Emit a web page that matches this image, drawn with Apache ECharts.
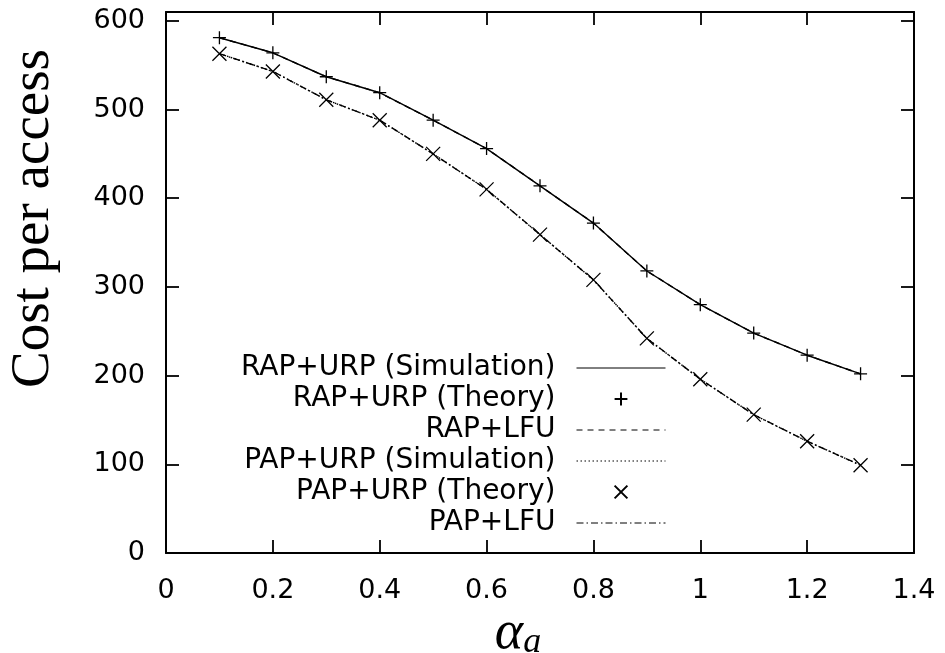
<!DOCTYPE html>
<html><head><meta charset="utf-8">
<script src="https://cdn.jsdelivr.net/npm/echarts@6/dist/echarts.min.js"></script>
<style>html,body{margin:0;padding:0;background:#fff}#c{width:945px;height:653px}</style>
</head><body><div id="c"></div>
<script>
// x values (alpha_a)
const alphaA = [0.1, 0.2, 0.3, 0.4, 0.5, 0.6, 0.7, 0.8, 0.9, 1.0, 1.1, 1.2, 1.3];
// Cost per access
const rapUrpSimulation = [581, 564, 537, 519, 488, 456, 414, 372, 318, 280, 248, 223, 202];
const rapUrpTheory     = [581, 564, 537, 519, 488, 456, 414, 372, 318, 280, 248, 223, 202];
const rapLfu           = [581, 564, 537, 519, 488, 456, 414, 372, 318, 280, 248, 223, 202];
const papUrpSimulation = [563, 543, 511, 488, 450, 410, 359, 308, 242, 196, 156, 126, 99];
const papUrpTheory     = [563, 543, 511, 488, 450, 410, 359, 308, 242, 196, 156, 126, 99];
const papLfu           = [563, 543, 511, 488, 450, 410, 359, 308, 242, 196, 156, 126, 99];
const seriesNames = ['RAP+URP (Simulation)', 'RAP+URP (Theory)', 'RAP+LFU',
                     'PAP+URP (Simulation)', 'PAP+URP (Theory)', 'PAP+LFU'];

const pairs = vals => alphaA.map((x, i) => [x, vals[i]]);
const PLUS = 'path://M0,6.5 L13,6.5 M6.5,0 L6.5,13';
const CROSS = 'path://M0,0 L13,13 M13,0 L0,13';
const noFill = 'rgba(0,0,0,0)';

function lineSeries(name, vals, dash, z) {
  return {
    name, type: 'line', data: pairs(vals), symbol: 'none', z,
    lineStyle: { color: '#000', width: 1.4, type: dash },
    itemStyle: { color: noFill, borderWidth: 0 },
    emphasis: { disabled: true }
  };
}
function markSeries(name, vals, sym, size) {
  return {
    name, type: 'line', data: pairs(vals), symbol: sym, symbolSize: size, showSymbol: true, z: 5,
    lineStyle: { color: '#000', width: 0, opacity: 0 },
    itemStyle: { color: noFill, borderColor: '#000', borderWidth: 1.3 },
    emphasis: { disabled: true }
  };
}

const chart = echarts.init(document.getElementById('c'), null, { renderer: 'canvas' });
const axisLineStyle = { color: '#000', width: 2 };
const tickStyle = { show: true, inside: true, length: 13, lineStyle: { color: '#000', width: 1.8 } };
const tickFont = { color: '#000', fontFamily: 'DejaVu Sans', fontSize: 27 };

chart.setOption({
  animation: false,
  backgroundColor: '#fff',
  grid: { left: 166, right: 31, top: 12, bottom: 100, containLabel: false, outerBoundsMode: 'none' },
  xAxis: [{
    type: 'value', min: 0, max: 1.4, interval: 0.2, position: 'bottom',
    axisLine: { show: true, onZero: false, lineStyle: axisLineStyle },
    axisTick: tickStyle,
    splitLine: { show: false },
    axisLabel: Object.assign({ margin: 24 }, tickFont),
    name: '{al|α}{sb|a}', nameLocation: 'middle', nameGap: 58, nameMoveOverlap: false,
    nameTextStyle: {
      padding: [0, 44, 0, 0],
      rich: {
        al: { fontFamily: 'Liberation Serif', fontStyle: 'italic', fontSize: 54, color: '#000', verticalAlign: 'bottom', lineHeight: 50 },
        sb: { fontFamily: 'Liberation Serif', fontStyle: 'italic', fontSize: 36, color: '#000', verticalAlign: 'bottom', lineHeight: 50 }
      }
    }
  }, {
    type: 'value', min: 0, max: 1.4, interval: 0.2, position: 'top',
    axisLine: { show: true, onZero: false, lineStyle: axisLineStyle },
    axisTick: tickStyle, axisLabel: { show: false }, splitLine: { show: false }
  }],
  yAxis: [{
    type: 'value', min: 0, max: 610, interval: 100, position: 'left',
    axisLine: { show: true, onZero: false, lineStyle: axisLineStyle },
    axisTick: tickStyle,
    splitLine: { show: false },
    axisLabel: Object.assign({ margin: 21, formatter: v => (v % 100 === 0 ? String(v) : '') }, tickFont),
    name: 'Cost per access', nameLocation: 'middle', nameRotate: 90, nameGap: 105, nameMoveOverlap: false,
    nameTextStyle: { fontFamily: 'Liberation Serif', fontSize: 55, color: '#000', padding: [0, 0, 0, 128] }
  }, {
    type: 'value', min: 0, max: 610, interval: 100, position: 'right',
    axisLine: { show: true, onZero: false, lineStyle: axisLineStyle },
    axisTick: tickStyle, axisLabel: { show: false }, splitLine: { show: false }
  }],
  legend: {
    orient: 'vertical', align: 'right', right: 279, top: 354, padding: 0,
    itemWidth: 89, itemHeight: 16, itemGap: 3, selectedMode: false,
    textStyle: { fontFamily: 'DejaVu Sans', fontSize: 28, color: '#000', lineHeight: 28, padding: [0, 16, 0, 0] },
    lineStyle: { width: 1 },
    data: [
      { name: seriesNames[0] },
      { name: seriesNames[1], lineStyle: { opacity: 0, width: 0 } },
      { name: seriesNames[2] },
      { name: seriesNames[3] },
      { name: seriesNames[4], lineStyle: { opacity: 0, width: 0 } },
      { name: seriesNames[5] }
    ]
  },
  series: [
    lineSeries(seriesNames[2], rapLfu, [6, 5], 2),
    lineSeries(seriesNames[0], rapUrpSimulation, 'solid', 3),
    markSeries(seriesNames[1], rapUrpTheory, PLUS, 13),
    lineSeries(seriesNames[3], papUrpSimulation, [1.5, 2.5], 2),
    lineSeries(seriesNames[5], papLfu, [7, 3, 1.5, 3], 3),
    markSeries(seriesNames[4], papUrpTheory, CROSS, 14)
  ]
});
</script></body></html>
